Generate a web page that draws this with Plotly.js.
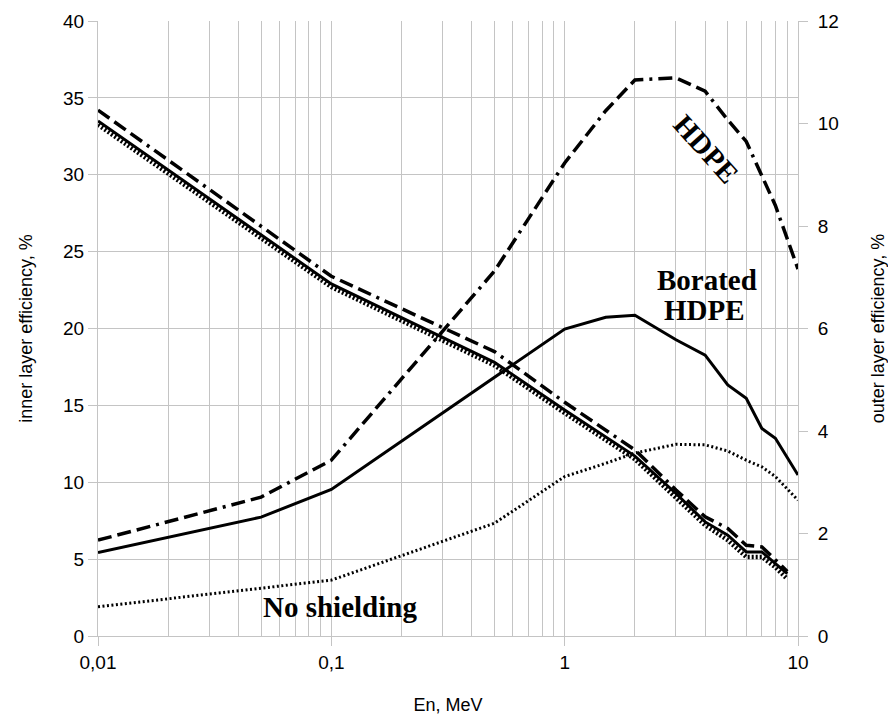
<!DOCTYPE html>
<html><head><meta charset="utf-8">
<script src="https://cdn.plot.ly/plotly-3.0.1.min.js"></script>
<style>html,body{margin:0;padding:0;background:#fff}#chart{width:888px;height:723px}</style>
</head><body><div id="chart"></div>
<script>
// Neutron energy, MeV
const energyInner = [0.01, 0.1, 0.5, 1, 2, 3, 4, 5, 6, 7, 8, 9];
const energyOuter = [0.01, 0.05, 0.1, 0.5, 1, 1.5, 2, 3, 4, 5, 6, 7, 8, 10];

// inner layer efficiency, % (left axis)
const innerHDPE    = [34.2, 23.4, 18.5, 15.2, 12.1, 9.5, 7.75, 7.0, 5.9, 5.8, 4.95, 4.2];
const innerBorated = [33.5, 22.9, 17.8, 14.7, 11.7, 9.27, 7.42, 6.56, 5.47, 5.47, 4.71, 4.06];
const innerNone    = [33.25, 22.7, 17.6, 14.5, 11.5, 9.03, 7.2, 6.23, 5.14, 5.14, 4.47, 3.7];

// outer layer efficiency, % (right axis)
const outerHDPE    = [1.87, 2.71, 3.43, 7.12, 9.23, 10.25, 10.85, 10.89, 10.63, 10.07, 9.65, 8.96, 8.4, 7.16];
const outerBorated = [1.63, 2.32, 2.86, 5.06, 5.99, 6.22, 6.26, 5.78, 5.48, 4.9, 4.64, 4.05, 3.86, 3.14];
const outerNone    = [0.57, 0.93, 1.09, 2.2, 3.11, 3.37, 3.57, 3.74, 3.73, 3.61, 3.43, 3.3, 3.11, 2.65];

const majorTicks = [0.01, 0.1, 1, 10];
const majorText = ['0,01', '0,1', '1', '10'];
const leftTitle = 'inner layer efficiency, %';
const rightTitle = 'outer layer efficiency, %';
const xTitle = 'En, MeV';

const minorTicks = [];
[0.01, 0.1, 1].forEach(d => { for (let k = 2; k <= 9; k++) minorTicks.push(Number((k * d).toPrecision(3))); });

const grid = '#c4c4c4';
const dashDot = '14px,6px,14px,6px,14px,6px,3px,6px';

const traces = [
  {x: energyInner, y: innerNone, yaxis: 'y', mode: 'lines', line: {color: '#000', width: 4.5, dash: '2px,2px'}},
  {x: energyInner, y: innerBorated, yaxis: 'y', mode: 'lines', line: {color: '#000', width: 3}},
  {x: energyInner, y: innerHDPE, yaxis: 'y', mode: 'lines', line: {color: '#000', width: 3.5, dash: dashDot}},
  {x: energyOuter, y: outerNone, yaxis: 'y2', mode: 'lines', line: {color: '#000', width: 3, dash: '2px,2.5px'}},
  {x: energyOuter, y: outerBorated, yaxis: 'y2', mode: 'lines', line: {color: '#000', width: 3}},
  {x: energyOuter, y: outerHDPE, yaxis: 'y2', mode: 'lines', line: {color: '#000', width: 3.5, dash: dashDot}}
];

const serif = {family: 'Liberation Serif, Times New Roman, serif', size: 29, color: '#000', weight: 'bold'};
const ann = (x, y, text, angle) => ({xref: 'paper', yref: 'paper', x: x, y: y, text: text, showarrow: false,
  xanchor: 'center', yanchor: 'middle', textangle: angle || 0, font: serif});

const layout = {
  width: 888, height: 723,
  margin: {l: 98, r: 90, t: 21, b: 87},
  paper_bgcolor: '#fff', plot_bgcolor: '#fff',
  showlegend: false,
  font: {family: 'Liberation Sans, Arial, sans-serif', size: 19, color: '#000'},
  xaxis: {
    type: 'log', range: [-2, 1],
    tickvals: majorTicks, ticktext: majorText,
    ticks: 'outside', ticklen: 9, tickcolor: grid, tickwidth: 1,
    showgrid: true, gridcolor: grid, gridwidth: 1,
    showline: true, linecolor: grid, linewidth: 1, zeroline: false,
    minor: {tickvals: minorTicks, showgrid: true, gridcolor: grid, gridwidth: 1, ticks: ''},
    title: {text: xTitle, standoff: 26, font: {size: 18}}
  },
  yaxis: {
    range: [0, 40], dtick: 5,
    ticks: 'outside', ticklen: 9, tickcolor: grid, tickwidth: 1,
    showgrid: true, gridcolor: grid, gridwidth: 1,
    zeroline: false, showline: true, linecolor: grid, linewidth: 1,
    title: {text: leftTitle, standoff: 25, font: {size: 18}}
  },
  yaxis2: {
    overlaying: 'y', side: 'right', range: [0, 12], dtick: 2,
    ticks: 'outside', ticklen: 9, tickcolor: grid, tickwidth: 1, ticklabelstandoff: 6,
    showgrid: false, zeroline: false, showline: true, linecolor: grid, linewidth: 1,
    title: {text: rightTitle, standoff: 34, font: {size: 18}}
  },
  annotations: [
    ann(0.869, 0.792, 'HDPE', 48),
    ann(0.870, 0.579, 'Borated'),
    ann(0.867, 0.530, 'HDPE'),
    ann(0.3455, 0.047, 'No shielding')
  ]
};

Plotly.newPlot('chart', traces, layout, {displayModeBar: false, staticPlot: true});
</script>
</body></html>
